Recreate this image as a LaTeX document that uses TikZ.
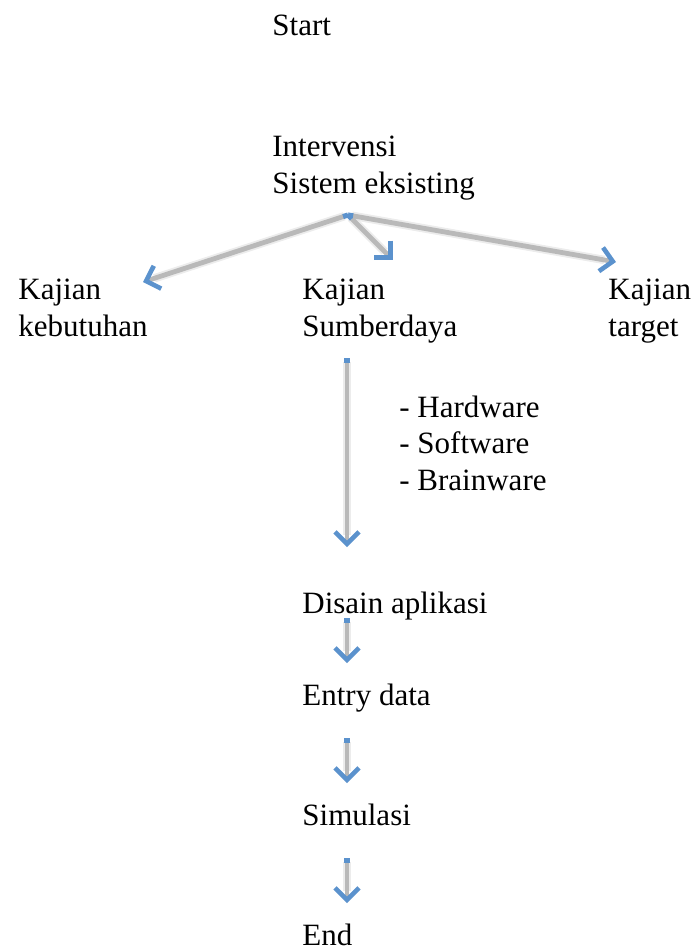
\documentclass[tikz,border=0pt]{standalone}
\usepackage{fontspec}
\setmainfont{Liberation Serif}
\usetikzlibrary{arrows.meta}
\definecolor{arrowblue}{RGB}{91,146,205}
\definecolor{linegray}{RGB}{185,185,185}
\tikzset{
  lbl/.style={anchor=base west, inner sep=0pt, align=left,
    font=\fontsize{15.5pt}{18.2pt}\selectfont},
  conn/.style={draw=linegray, line width=2.4pt,
    {Square[color=arrowblue, length=2.6pt, width=2.6pt]}-{Straight Barb[color=arrowblue, length=6pt, width=12pt, line width=2.3pt]}},
  halo/.style={draw=linegray!45, line width=4.2pt, opacity=0.6}
}
\begin{document}
\begin{tikzpicture}[x=0.5pt, y=-0.5pt]
\useasboundingbox (0,0) rectangle (694,949);
% texts (base anchor = baseline of the last line)
\node[lbl] (start) at (272,35) {Start};
\node[lbl] (interv) at (272,193) {Intervensi\\Sistem eksisting};
\node[lbl] (kbut) at (18,336) {Kajian\\kebutuhan};
\node[lbl] (ksum) at (302,336) {Kajian\\Sumberdaya};
\node[lbl] (ktar) at (608,336) {Kajian\\target};
\node[lbl] (list) at (399,490) {- Hardware\\- Software\\- Brainware};
\node[lbl] (disain) at (302,613) {Disain aplikasi};
\node[lbl] (entry) at (302,705) {Entry data};
\node[lbl] (simul) at (302,825) {Simulasi};
\node[lbl] (end) at (302,945) {End};
% connector end points
\coordinate (o) at (348,215);
\coordinate (tl) at (143,282);
\coordinate (tm) at (393,260);
\coordinate (tr) at (616,262);
\coordinate (s1) at (347,358);
\coordinate (e1) at (347,547);
\coordinate (s2) at (347,618);
\coordinate (e2) at (347,663);
\coordinate (s3) at (347,738);
\coordinate (e3) at (347,783);
\coordinate (s4) at (347,858);
\coordinate (e4) at (347,903);
% soft halos
\foreach \a/\b in {o/tl,o/tm,o/tr,s1/e1,s2/e2,s3/e3,s4/e4}
  \draw[halo, shorten >=6pt, shorten <=2pt] (\a) -- (\b);
% connectors
\draw[conn] (o) -- (tl);
\draw[conn] (o) -- (tm);
\draw[conn] (o) -- (tr);
\draw[conn] (s1) -- (e1);
\draw[conn] (s2) -- (e2);
\draw[conn] (s3) -- (e3);
\draw[conn] (s4) -- (e4);
\end{tikzpicture}
\end{document}
